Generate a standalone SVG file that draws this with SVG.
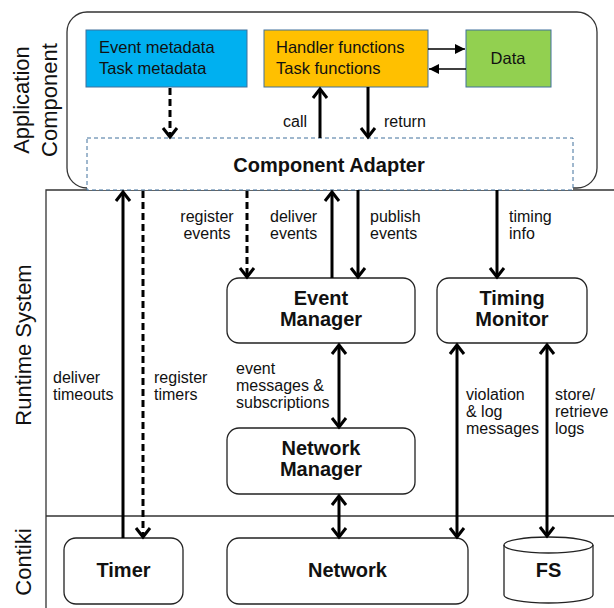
<svg xmlns="http://www.w3.org/2000/svg" width="614" height="608" viewBox="0 0 614 608">
<style>
text{font-family:"Liberation Sans",Arial,sans-serif;fill:#111}
.lbl{font-size:16px}
.box{font-size:16.5px}
.ttl{font-size:20px;font-weight:bold}
.side{font-size:22px}
.node{fill:#fff;stroke:#222;stroke-width:1.3}
.frame{fill:none;stroke:#333;stroke-width:1.3}
.thick{fill:none;stroke:#000;stroke-width:3}
.dash{stroke-dasharray:7,4}
.thin{fill:none;stroke:#000;stroke-width:1.5}
.cbox{stroke:#41719C;stroke-width:1}
</style>
<defs>
<marker id="ah" viewBox="0 0 12 16" refX="10" refY="8" markerWidth="12" markerHeight="16" orient="auto-start-reverse" markerUnits="userSpaceOnUse" overflow="visible">
<path d="M1,1 L10,8 L1,15" fill="none" stroke="#000" stroke-width="3"/>
</marker>
<marker id="tri" viewBox="0 0 10 10" refX="10" refY="5" markerWidth="10" markerHeight="10" orient="auto" markerUnits="userSpaceOnUse">
<path d="M0,0 L10,5 L0,10 z" fill="#000"/>
</marker>
</defs>

<g id="runtime-frame">
<path class="frame" d="M616,190 H46 V610"/>
<path class="frame" d="M46,516 H616"/>
</g>

<g id="application-component">
<rect class="frame" x="67" y="12" width="530" height="176" rx="20" fill="#fff"/>
</g>

<g id="component-adapter">
<rect x="87" y="138" width="486" height="52" fill="#fff" stroke="#41719C" stroke-width="1" stroke-dasharray="4,3"/>
<text class="ttl" x="329" y="172" text-anchor="middle" font-size="19">Component Adapter</text>
</g>

<g id="metadata">
<rect class="cbox" x="86" y="30" width="161" height="57" fill="#00B0F0"/>
<text class="box" x="99" y="53">Event metadata<tspan x="99" dy="21">Task metadata</tspan></text>
</g>

<g id="functions">
<rect class="cbox" x="264" y="30" width="164" height="57" fill="#FFC000"/>
<text class="box" x="276" y="53">Handler functions<tspan x="276" dy="21">Task functions</tspan></text>
</g>

<g id="data">
<rect class="cbox" x="466" y="30" width="85" height="57" fill="#92D050"/>
<text class="box" x="508" y="64" text-anchor="middle">Data</text>
</g>

<g id="event-manager">
<rect class="node" x="227" y="278" width="188" height="65" rx="12"/>
<text class="ttl" x="321" y="305" text-anchor="middle">Event<tspan x="321" dy="21">Manager</tspan></text>
</g>

<g id="timing-monitor">
<rect class="node" x="437" y="278" width="150" height="65" rx="12"/>
<text class="ttl" x="512" y="305" text-anchor="middle">Timing<tspan x="512" dy="21">Monitor</tspan></text>
</g>

<g id="network-manager">
<rect class="node" x="227" y="428" width="188" height="66" rx="12"/>
<text class="ttl" x="321" y="455" text-anchor="middle">Network<tspan x="321" dy="21">Manager</tspan></text>
</g>

<g id="timer">
<rect class="node" x="64" y="538" width="119" height="66" rx="12"/>
<text class="ttl" x="123.5" y="577" text-anchor="middle">Timer</text>
</g>

<g id="network">
<rect class="node" x="227" y="538" width="241" height="66" rx="12"/>
<text class="ttl" x="347.5" y="577" text-anchor="middle">Network</text>
</g>

<g id="fs">
<path class="node" d="M504,545 A44.5,8 0 0 1 593,545 V595 A44.5,8 0 0 1 504,595 Z"/>
<path fill="none" stroke="#222" stroke-width="1.3" d="M504,545 A44.5,8 0 0 0 593,545"/>
<text class="ttl" x="548.5" y="577" text-anchor="middle">FS</text>
</g>

<g id="layer-labels">
<text class="side" transform="translate(29,100) rotate(-90)" text-anchor="middle">Application<tspan x="0" dy="28">Component</tspan></text>
<text class="side" transform="translate(31,345) rotate(-90)" text-anchor="middle">Runtime System</text>
<text class="side" transform="translate(31,562) rotate(-90)" text-anchor="middle">Contiki</text>
</g>

<g id="connectors">
<line class="thin" x1="428" y1="49" x2="465" y2="49" marker-end="url(#tri)"/>
<line class="thin" x1="466" y1="69" x2="429" y2="69" marker-end="url(#tri)"/>
<line class="thick dash" x1="170" y1="88" x2="170" y2="137" marker-end="url(#ah)"/>
<line class="thick" x1="320" y1="138" x2="320" y2="89" marker-end="url(#ah)"/>
<line class="thick" x1="368" y1="87" x2="368" y2="137" marker-end="url(#ah)"/>
<line class="thick" x1="123" y1="538" x2="123" y2="192" marker-end="url(#ah)"/>
<line class="thick dash" x1="143" y1="191" x2="143" y2="537" marker-end="url(#ah)"/>
<line class="thick dash" x1="247" y1="191" x2="247" y2="277" marker-end="url(#ah)"/>
<line class="thick" x1="332" y1="278" x2="332" y2="192" marker-end="url(#ah)"/>
<line class="thick" x1="358" y1="190" x2="358" y2="277" marker-end="url(#ah)"/>
<line class="thick" x1="497" y1="190" x2="497" y2="277" marker-end="url(#ah)"/>
<line class="thick" x1="339" y1="345" x2="339" y2="427" marker-start="url(#ah)" marker-end="url(#ah)"/>
<line class="thick" x1="457" y1="345" x2="457" y2="537" marker-start="url(#ah)" marker-end="url(#ah)"/>
<line class="thick" x1="547" y1="345" x2="547" y2="536" marker-start="url(#ah)" marker-end="url(#ah)"/>
<line class="thick" x1="339" y1="496" x2="339" y2="537" marker-start="url(#ah)" marker-end="url(#ah)"/>
</g>

<g id="connector-labels">
<text class="lbl" x="307" y="127" text-anchor="end">call</text>
<text class="lbl" x="384" y="127">return</text>
<text class="lbl" x="207" y="222" text-anchor="middle">register<tspan x="207" dy="17">events</tspan></text>
<text class="lbl" x="270" y="222">deliver<tspan x="270" dy="17">events</tspan></text>
<text class="lbl" x="370" y="222">publish<tspan x="370" dy="17">events</tspan></text>
<text class="lbl" x="509" y="222">timing<tspan x="509" dy="17">info</tspan></text>
<text class="lbl" x="53" y="383">deliver<tspan x="53" dy="17">timeouts</tspan></text>
<text class="lbl" x="154" y="383">register<tspan x="154" dy="17">timers</tspan></text>
<text class="lbl" x="236" y="374">event<tspan x="236" dy="17">messages &amp;</tspan><tspan x="236" dy="17">subscriptions</tspan></text>
<text class="lbl" x="466" y="400">violation<tspan x="466" dy="17">&amp; log</tspan><tspan x="466" dy="17">messages</tspan></text>
<text class="lbl" x="555" y="400">store/<tspan x="555" dy="17">retrieve</tspan><tspan x="555" dy="17">logs</tspan></text>
</g>
</svg>
